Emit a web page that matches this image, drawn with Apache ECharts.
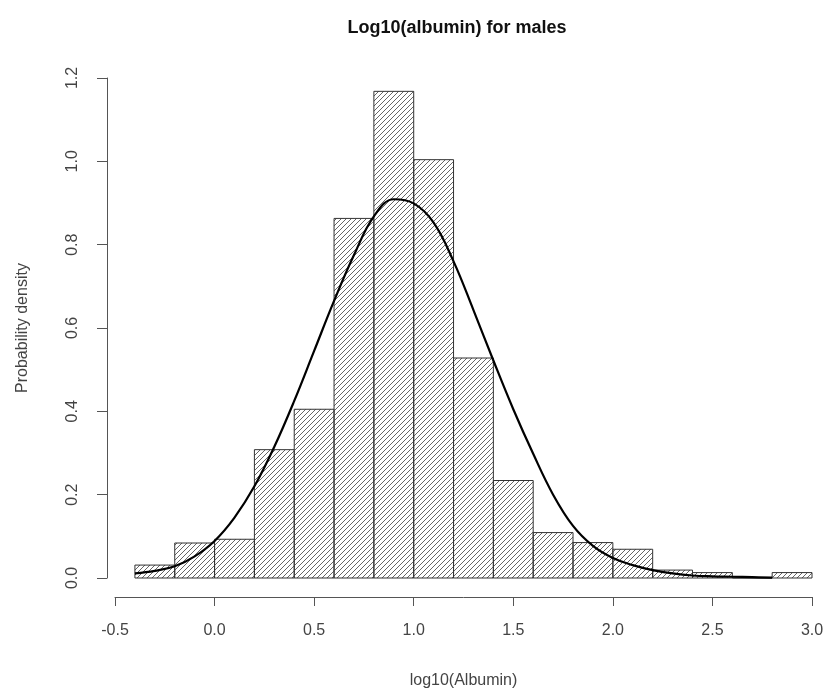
<!DOCTYPE html>
<html>
<head>
<meta charset="utf-8">
<script src="https://cdn.jsdelivr.net/npm/echarts@6/dist/echarts.min.js"></script>
<style>
  html, body { margin: 0; padding: 0; background: #fff; }
  #chart { width: 830px; height: 697px; }
</style>
</head>
<body>
<div id="chart"></div>
<script>
// histogram bins (left edges), bin width 0.2
const binLeft = [-0.4, -0.2, 0.0, 0.2, 0.4, 0.6, 0.8, 1.0, 1.2, 1.4, 1.6, 1.8, 2.0, 2.2, 2.4, 2.6, 2.8]
const binWidth = 0.2
const density = [0.031, 0.084, 0.093, 0.308, 0.405, 0.863, 1.168, 1.004, 0.528, 0.234, 0.109, 0.085, 0.069, 0.019, 0.013, 0, 0.013]

// fitted curve
const curveX = [-0.4, -0.3, -0.2, -0.1, 0.0, 0.1, 0.2, 0.3, 0.4, 0.5, 0.6, 0.7, 0.8, 0.9, 1.0, 1.1, 1.2, 1.3, 1.4, 1.5, 1.6, 1.7, 1.8, 1.9, 2.0, 2.1, 2.2, 2.3, 2.4, 2.5, 2.6, 2.7, 2.8]
const curveY = [0.011, 0.017, 0.028, 0.052, 0.089, 0.145, 0.220, 0.315, 0.425, 0.545, 0.665, 0.775, 0.868, 0.909, 0.899, 0.853, 0.760, 0.643, 0.522, 0.405, 0.298, 0.200, 0.125, 0.077, 0.048, 0.031, 0.019, 0.011, 0.006, 0.004, 0.003, 0.002, 0.001]

const xTicks = { min: -0.5, max: 3.0, step: 0.5 }
const yTicks = { min: 0, max: 1.2, step: 0.2 }

// hatch tile: "////" lines
const tile = document.createElement('canvas')
tile.width = 5; tile.height = 5
const tc = tile.getContext('2d')
tc.strokeStyle = '#555'
tc.lineWidth = 0.9
tc.beginPath()
tc.moveTo(0, 5); tc.lineTo(5, 0)
tc.moveTo(-1, 1); tc.lineTo(1, -1)
tc.moveTo(4, 6); tc.lineTo(6, 4)
tc.stroke()

const bars = binLeft.map((x, i) => [x, x + binWidth, density[i]])
const curve = curveX.map((x, i) => [x, curveY[i]])

const chart = echarts.init(document.getElementById('chart'))
const txt = '#444'
chart.setOption({
  backgroundColor: '#fff',
  animation: false,
  textStyle: { fontFamily: 'Liberation Sans, Arial, sans-serif' },
  title: {
    text: 'Log10(albumin) for males',
    left: 452, top: 14, textAlign: 'center',
    textStyle: { fontSize: 18, fontWeight: 'bold', color: '#111', fontFamily: 'Liberation Sans' }
  },
  grid: { left: 115, right: 18, top: 78, bottom: 119 },
  xAxis: {
    type: 'value', min: xTicks.min, max: xTicks.max, interval: xTicks.step,
    offset: 19,
    name: 'log10(Albumin)', nameLocation: 'middle', nameGap: 76,
    nameTextStyle: { fontSize: 16, color: txt },
    axisLine: { onZero: false, lineStyle: { color: '#555', width: 1 } },
    axisTick: { length: 9, lineStyle: { color: '#555' } },
    axisLabel: { fontSize: 16, color: txt, margin: 26, formatter: v => v.toFixed(1) },
    splitLine: { show: false }
  },
  yAxis: {
    type: 'value', min: yTicks.min, max: yTicks.max, interval: yTicks.step,
    offset: 8,
    name: 'Probability density', nameLocation: 'middle', nameGap: 76, nameRotate: 90,
    nameTextStyle: { fontSize: 16, color: txt },
    axisLine: { show: true, onZero: false, lineStyle: { color: '#555', width: 1 } },
    axisTick: { show: true, length: 10, lineStyle: { color: '#555' } },
    axisLabel: { fontSize: 16, color: txt, rotate: 90, margin: 26, formatter: v => v.toFixed(1) },
    splitLine: { show: false }
  },
  series: [
    {
      type: 'custom',
      data: bars,
      encode: { x: [0, 1], y: 2 },
      renderItem: (params, api) => {
        const p0 = api.coord([api.value(0), api.value(2)])
        const p1 = api.coord([api.value(1), 0])
        return {
          type: 'rect',
          shape: { x: p0[0], y: p0[1], width: p1[0] - p0[0], height: p1[1] - p0[1] },
          style: { fill: { image: tile, repeat: 'repeat' }, stroke: '#333', lineWidth: 1 }
        }
      }
    },
    {
      type: 'line',
      data: curve,
      smooth: 0.4,
      showSymbol: false,
      lineStyle: { color: '#000', width: 2.2 },
      z: 5
    }
  ]
})
</script>
</body>
</html>
